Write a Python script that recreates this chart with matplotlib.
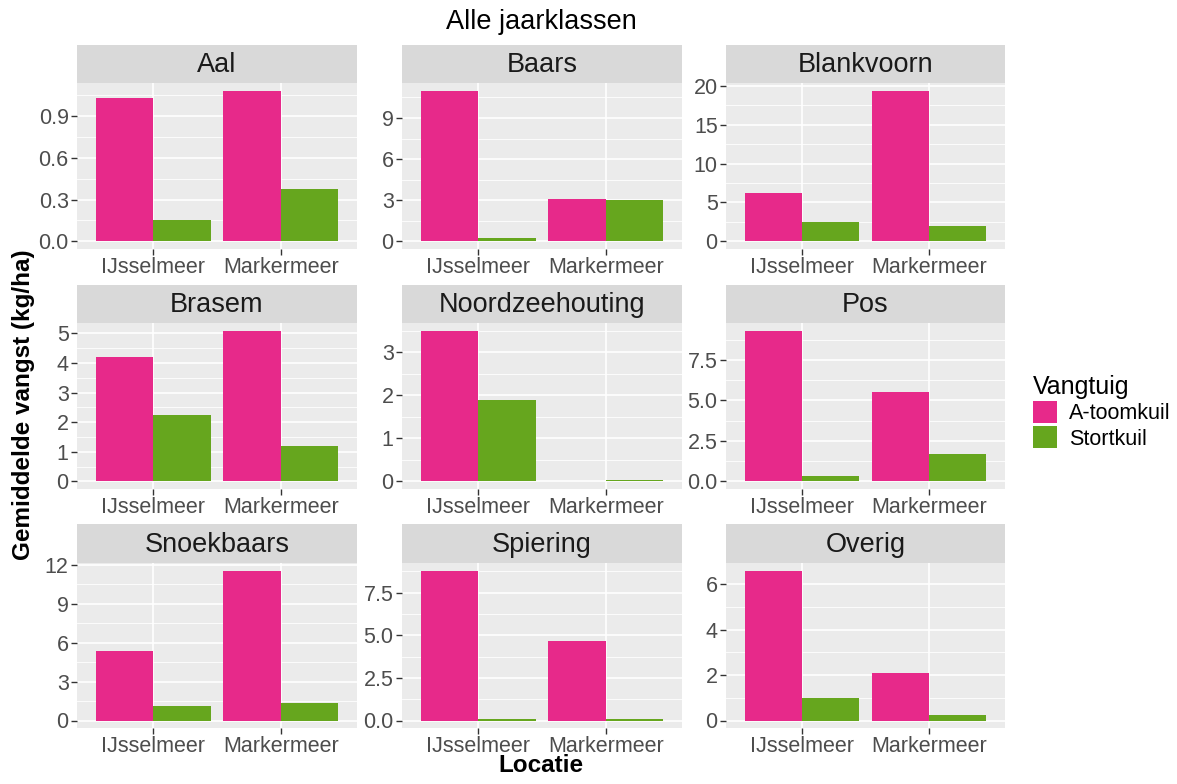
import numpy as np
import matplotlib
matplotlib.use("Agg")
import matplotlib.pyplot as plt
from matplotlib.patches import Patch

plt.rcParams["font.family"] = ["Liberation Sans", "DejaVu Sans"]

# data
soorten = ["Aal", "Baars", "Blankvoorn", "Brasem", "Noordzeehouting", "Pos",
           "Snoekbaars", "Spiering", "Overig"]
locaties = ["IJsselmeer", "Markermeer"]
atoomkuil_ij = [1.03, 11.0, 6.17, 4.21, 3.50, 9.31, 5.32, 8.80, 6.60]
atoomkuil_mk = [1.08, 3.09, 19.36, 5.09, 0.015, 5.51, 11.54, 4.66, 2.08]
stortkuil_ij = [0.155, 0.22, 2.48, 2.24, 1.90, 0.31, 1.15, 0.06, 0.99]
stortkuil_mk = [0.377, 3.02, 1.93, 1.19, 0.04, 1.68, 1.35, 0.10, 0.26]
y_ticks = [[0, 0.3, 0.6, 0.9], [0, 3, 6, 9], [0, 5, 10, 15, 20],
           [0, 1, 2, 3, 4, 5], [0, 1, 2, 3], [0, 2.5, 5, 7.5],
           [0, 3, 6, 9, 12], [0, 2.5, 5, 7.5], [0, 2, 4, 6]]
y_fmt = ["{:.1f}", "{:g}", "{:g}", "{:g}", "{:g}", "{:.1f}", "{:g}", "{:.1f}", "{:g}"]

PINK = "#E7298A"
GREEN = "#66A61E"
W, H = 1177, 784

fig = plt.figure(figsize=(W / 100, H / 100), dpi=100)


def box(x0, y0, x1, y1):
    # pixel box (top-left origin) -> figure fraction
    return [x0 / W, 1 - y1 / H, (x1 - x0) / W, (y1 - y0) / H]


cols = [(77, 357), (402, 682), (726, 1005)]
rows = [(45, 83, 249), (285, 323, 489), (524, 563, 728)]

for k, soort in enumerate(soorten):
    r, c = divmod(k, 3)
    x0, x1 = cols[c]
    st, top, bot = rows[r]

    strip = fig.add_axes(box(x0, st, x1, top))
    strip.set_facecolor("#D9D9D9")
    strip.set_xticks([])
    strip.set_yticks([])
    for s in strip.spines.values():
        s.set_visible(False)
    strip.text(0.5, 0.47, soort, ha="center", va="center", fontsize=19.5,
               color="#1A1A1A", transform=strip.transAxes)

    ax = fig.add_axes(box(x0, top, x1, bot))
    ax.set_facecolor("#EBEBEB")
    for s in ax.spines.values():
        s.set_visible(False)

    pos = np.arange(1, 3)
    a_vals = [atoomkuil_ij[k], atoomkuil_mk[k]]
    s_vals = [stortkuil_ij[k], stortkuil_mk[k]]
    ax.bar(pos - 0.225, a_vals, width=0.45, color=PINK, zorder=3)
    ax.bar(pos + 0.225, s_vals, width=0.45, color=GREEN, zorder=3)

    ymax = max(a_vals + s_vals)
    ax.set_ylim(-0.05 * ymax, 1.05 * ymax)
    ax.set_xlim(0.4, 2.6)

    ticks = y_ticks[k]
    step = ticks[1] - ticks[0]
    minor = [t + step / 2 for t in ticks if t + step / 2 < 1.05 * ymax]
    ax.set_yticks(ticks)
    ax.set_yticklabels([y_fmt[k].format(t) for t in ticks])
    ax.set_yticks(minor, minor=True)
    ax.set_xticks(pos)
    ax.set_xticklabels(locaties)

    ax.grid(True, which="major", color="white", linewidth=1.2, zorder=0)
    ax.grid(True, which="minor", axis="y", color="white", linewidth=0.6, zorder=0)
    ax.set_axisbelow(True)
    ax.tick_params(which="major", length=4, width=1, color="#333333",
                   labelsize=15.5, labelcolor="#4D4D4D", pad=2)
    ax.tick_params(which="minor", length=0)

fig.text(541 / W, 1 - 22 / H, "Alle jaarklassen", ha="center", va="center",
         fontsize=19.5, color="black")
fig.text(541 / W, 1 - 765 / H, "Locatie", ha="center", va="center",
         fontsize=17.5, fontweight="bold")
fig.text(24 / W, 1 - 405 / H, "Gemiddelde vangst (kg/ha)", ha="center",
         va="center", rotation=90, fontsize=17.5, fontweight="bold")

handles = [Patch(facecolor=PINK), Patch(facecolor=GREEN)]
leg = fig.legend(handles, ["A-toomkuil", "Stortkuil"], title="Vangtuig",
                 loc="upper left", bbox_to_anchor=(1024 / W, 1 - 366 / H),
                 frameon=False, fontsize=15.5, title_fontsize=18,
                 handlelength=1.15, handleheight=1.2, handletextpad=0.55,
                 labelspacing=0.1, borderaxespad=0)
leg._legend_box.align = "left"

fig.savefig("out.png", dpi=100)
